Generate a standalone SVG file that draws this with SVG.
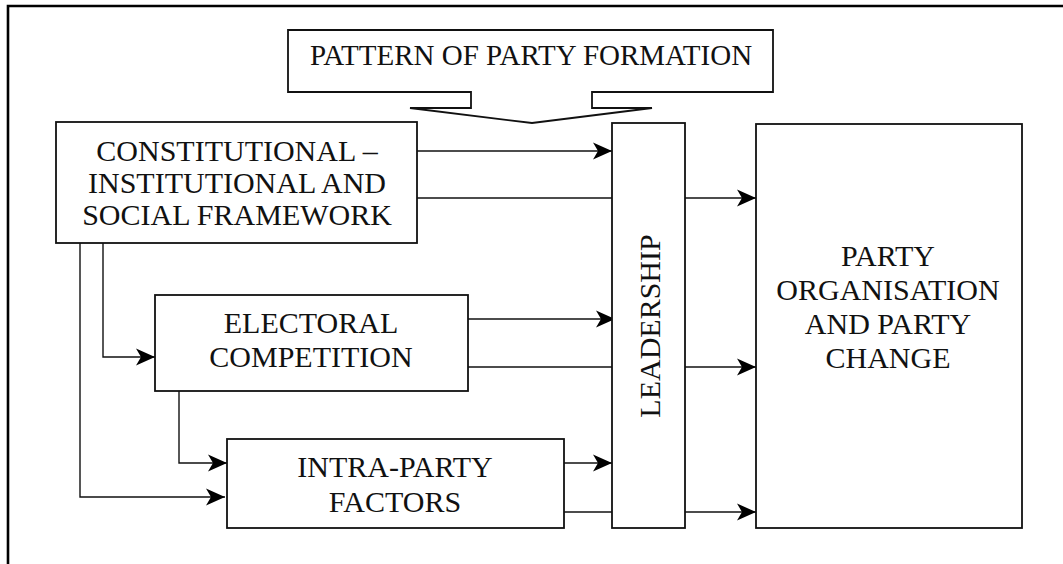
<svg xmlns="http://www.w3.org/2000/svg" width="1063" height="564" viewBox="0 0 1063 564">
<style>
.box{fill:#fff;stroke:#111;stroke-width:1.8}
.ln{fill:none;stroke:#111;stroke-width:1.4}
.t{font-family:"Liberation Serif","Times New Roman",serif;font-size:30px;fill:#111;text-anchor:middle}
</style>
<defs>
<marker id="ah" viewBox="-20 -10 21 20" refX="0" refY="0" markerWidth="21" markerHeight="20" markerUnits="userSpaceOnUse" orient="auto">
<path d="M0,0 L-19,-8.5 L-14,0 L-19,8.5 Z" fill="#000"/>
</marker>
</defs>
<rect width="1063" height="564" fill="#fff"/>
<g id="frame">
<path d="M8,564 V6 H1063" fill="none" stroke="#000" stroke-width="2.6"/>
</g>
<g id="connectors">
<line class="ln" x1="417" y1="151" x2="612" y2="151" marker-end="url(#ah)"/>
<line class="ln" x1="417" y1="198" x2="612" y2="198"/>
<line class="ln" x1="685" y1="198" x2="756" y2="198" marker-end="url(#ah)"/>
<line class="ln" x1="468" y1="319" x2="615" y2="319" marker-end="url(#ah)"/>
<line class="ln" x1="468" y1="367" x2="612" y2="367"/>
<line class="ln" x1="685" y1="367" x2="756" y2="367" marker-end="url(#ah)"/>
<line class="ln" x1="564" y1="463" x2="612" y2="463" marker-end="url(#ah)"/>
<line class="ln" x1="564" y1="512" x2="612" y2="512"/>
<line class="ln" x1="685" y1="512" x2="756" y2="512" marker-end="url(#ah)"/>
<polyline class="ln" points="103,243 103,357 155,357" marker-end="url(#ah)"/>
<polyline class="ln" points="80,243 80,497 225,497" marker-end="url(#ah)"/>
<polyline class="ln" points="179,391 179,463 227,463" marker-end="url(#ah)"/>
</g>
<g id="pattern">
<path class="box" d="M288,30 H773 V92 H592 V108 H652 L532,123 L410,108 H471 V92 H288 Z"/>
<text class="t" x="531" y="65" style="font-size:29px">PATTERN OF PARTY FORMATION</text>
</g>
<g id="constitutional">
<rect class="box" x="56" y="122" width="361" height="121"/>
<text class="t" x="237" y="161">CONSTITUTIONAL –</text>
<text class="t" x="237" y="193">INSTITUTIONAL AND</text>
<text class="t" x="237" y="225">SOCIAL FRAMEWORK</text>
</g>
<g id="electoral">
<rect class="box" x="155" y="295" width="313" height="96"/>
<text class="t" x="311" y="333">ELECTORAL</text>
<text class="t" x="311" y="367">COMPETITION</text>
</g>
<g id="intraparty">
<rect class="box" x="227" y="439" width="337" height="89"/>
<text class="t" x="395" y="477">INTRA-PARTY</text>
<text class="t" x="395" y="512">FACTORS</text>
</g>
<g id="leadership">
<rect class="box" x="612" y="123" width="73" height="405"/>
<text class="t" transform="translate(660,326) rotate(-90)" x="0" y="0">LEADERSHIP</text>
</g>
<g id="partyorg">
<rect class="box" x="756" y="124" width="266" height="404"/>
<text class="t" x="888" y="266">PARTY</text>
<text class="t" x="888" y="300">ORGANISATION</text>
<text class="t" x="888" y="334">AND PARTY</text>
<text class="t" x="888" y="368">CHANGE</text>
</g>
</svg>
